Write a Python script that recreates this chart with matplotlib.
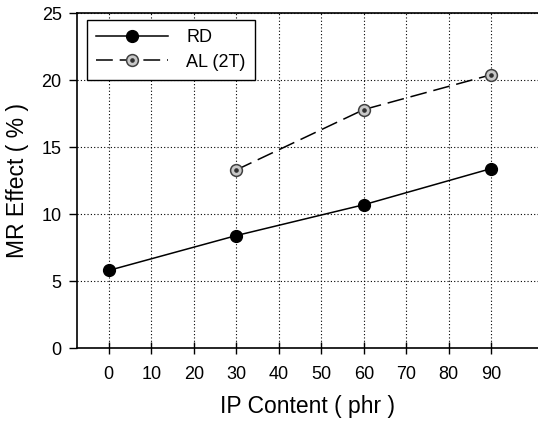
import matplotlib
matplotlib.use("Agg")
import matplotlib.pyplot as plt
from matplotlib.legend_handler import HandlerTuple

plt.rcParams['font.family'] = ['Liberation Sans', 'DejaVu Sans']

# MR effect vs IP content
ip_rd = [0, 30, 60, 90]
mr_rd = [5.8, 8.4, 10.7, 13.4]
ip_al = [30, 60, 90]
mr_al = [13.3, 17.8, 20.4]

xticks = [0, 10, 20, 30, 40, 50, 60, 70, 80, 90]
yticks = [0, 5, 10, 15, 20, 25]

fig = plt.figure(figsize=(5.38, 4.22), dpi=100)
ax = fig.add_axes([0.143, 0.175, 0.857, 0.794])

rd_line, = ax.plot(ip_rd, mr_rd, '-', color='black', lw=1.1, marker='o', ms=8.5,
                   mfc='black', mec='black', zorder=3)
al_line, = ax.plot(ip_al, mr_al, color='black', lw=1.1, dashes=(11, 4.5),
                   marker='o', ms=8.5, mfc='#c8c8c8', mec='#404040', mew=1.1, zorder=3)
al_dot, = ax.plot(ip_al, mr_al, ls='none', marker='o', ms=2.3,
                  mfc='#303030', mec='#303030', zorder=4)

ax.set_xlim(-7.5, 101)
ax.set_ylim(0, 25)
ax.set_xticks(xticks)
ax.set_yticks(yticks)
ax.tick_params(axis='x', direction='inout', length=9, width=1, labelsize=13, pad=8)
ax.tick_params(axis='y', direction='out', length=6, width=1, labelsize=13, pad=5)
ax.grid(True, ls=(0, (1, 2)), color='black', lw=0.8)
for s in ['left', 'top', 'bottom']:
    ax.spines[s].set_linewidth(1.2)
ax.spines['right'].set_visible(False)

ax.set_xlabel('IP Content ( phr )', fontsize=16.5, labelpad=9)
ax.set_ylabel('MR Effect ( % )', fontsize=16.5, labelpad=9)

leg = ax.legend([rd_line, (al_line, al_dot)], ['RD', 'AL (2T)'],
                handler_map={tuple: HandlerTuple(ndivide=1)},
                loc='upper left', bbox_to_anchor=(0.0217, 0.979), borderaxespad=0,
                fontsize=13, fancybox=False, edgecolor='black',
                framealpha=1, handlelength=4.0, handletextpad=1.0,
                borderpad=0.5, labelspacing=0.42)
leg.get_frame().set_linewidth(1.0)

fig.savefig('out.png', dpi=100)
